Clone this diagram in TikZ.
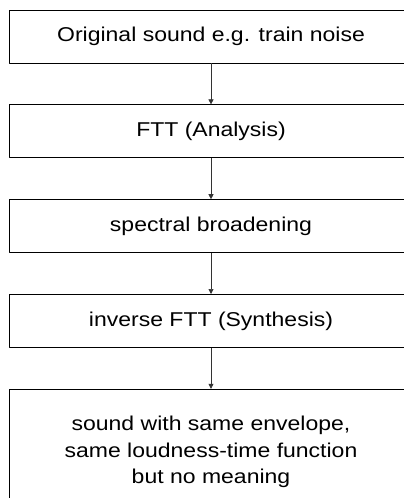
\documentclass[tikz,border=0pt]{standalone}
\usepackage{fontspec}
\setmainfont[FakeStretch=1.15]{Liberation Sans}
\usetikzlibrary{arrows.meta, positioning}

\begin{document}
\begin{tikzpicture}[x=1pt, y=1pt, line join=round,
  stage/.style={draw, line width=0.8pt, minimum width=404pt, minimum height=53pt,
    inner sep=0pt, align=center, font=\fontsize{20}{26.5}\selectfont},
  flow/.style={-{Triangle[width=5pt,length=5pt]}, line width=0.6pt, draw=black!80}]
\useasboundingbox (0,0) rectangle (404,-498);
\clip (0,0) rectangle (404,-498);
\node[stage] (orig) at (211,-36.5) {Original sound e.g. train noise};
\node[stage, below=41pt of orig] (fft) {FTT (Analysis)};
\node[stage, below=41pt of fft] (broad) {spectral broadening};
\node[stage, below=41pt of broad] (ifft) {inverse FTT (Synthesis)};
\node[stage, below=41pt of ifft, minimum height=126pt] (result)
  {sound with same envelope,\\ same loudness-time function\\ but no meaning};
\draw[flow] (orig) -- (fft);
\draw[flow] (fft) -- (broad);
\draw[flow] (broad) -- (ifft);
\draw[flow] (ifft) -- (result);
\end{tikzpicture}
\end{document}
